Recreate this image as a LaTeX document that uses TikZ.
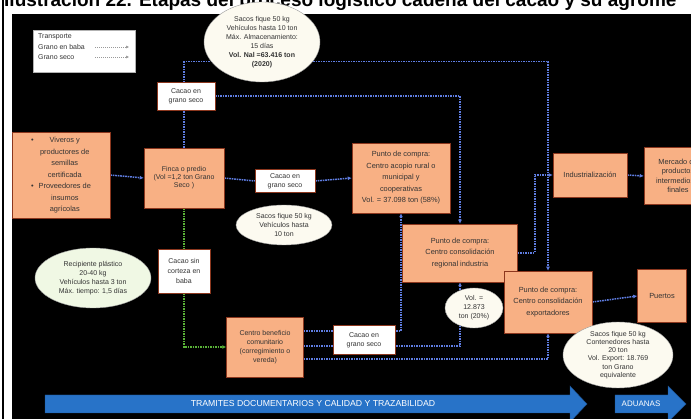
\documentclass[tikz,border=0pt]{standalone}
\usepackage{fontspec}
\setmainfont{Liberation Sans}
\usetikzlibrary{shapes.geometric,arrows.meta}

\definecolor{peach}{RGB}{248,176,132}
\definecolor{boxedge}{RGB}{140,55,30}
\definecolor{secoblue}{RGB}{95,125,225}
\definecolor{babagreen}{RGB}{90,180,55}
\definecolor{barblue}{RGB}{40,115,200}
\definecolor{cream}{RGB}{252,250,240}
\definecolor{greenwhite}{RGB}{240,248,228}

\pgfdeclarelayer{bgpanel}
\pgfdeclarelayer{lines}
\pgfsetlayers{bgpanel,lines,main}

\begin{document}
\begin{tikzpicture}[x=1pt,y=-1pt,
    every node/.style={font=\fontsize{7}{9}\selectfont, align=center, text=black!80, inner sep=1pt},
    ornbox/.style={draw=boxedge, fill=peach, line width=0.5pt},
    whbox/.style={draw=boxedge, fill=white, line width=0.5pt},
    bubble/.style={ellipse, draw=black!40, fill=cream, inner sep=0pt},
    loose/.style={font=\fontsize{7.4}{11.5}\selectfont},
    seco/.style={secoblue, line width=1.5pt, dash pattern=on 1.6pt off 0.9pt, -{Latex[length=4pt,width=4pt]}},
    secoplain/.style={secoblue, line width=1.5pt, dash pattern=on 1.6pt off 0.9pt},
    baba/.style={babagreen, line width=1.5pt, dash pattern=on 1.6pt off 0.9pt},
    bararrow/.style={fill=barblue, draw=barblue!70!black}]

  % Page and title
  \useasboundingbox (0,0) rectangle (691,419);
  \begin{pgfonlayer}{bgpanel}
    \fill[white] (0,0) rectangle (691,419);
    \begin{scope}
      \clip (0,0) rectangle (691,14);
      \node[anchor=base west, font=\fontsize{19}{19}\bfseries\selectfont, text=black, inner sep=0pt] (title) at (4,7)
        {Ilustración 22. Etapas del proceso logístico cadena del cacao y su agrome};
    \end{scope}
    \fill[black] (2,0) rectangle (4,419);
    \fill[black] (12,14) rectangle (691,419);
  \end{pgfonlayer}

  % Legend
  \node[draw=black!30, fill=white, minimum width=102pt, minimum height=42pt] (legend) at (84,51) {};
  \node[anchor=west] (lgtit) at (37,37) {Transporte};
  \node[anchor=west] (lgbaba) at (37,47) {Grano en baba};
  \node[anchor=west] (lgseco) at (37,57) {Grano seco};
  \coordinate (lgb1) at (95,47); \coordinate (lgb2) at (129,47);
  \coordinate (lgs1) at (95,57); \coordinate (lgs2) at (129,57);
  \draw[black!40, line width=0.5pt, dash pattern=on 1pt off 1pt, -{Latex[length=3pt,width=3pt]}] (lgb1) -- (lgb2);
  \draw[black!40, line width=0.5pt, dash pattern=on 1pt off 1pt, -{Latex[length=3pt,width=3pt]}] (lgs1) -- (lgs2);

  % Boxes
  \node[ornbox, loose, minimum width=98pt, minimum height=86pt] (viveros) at (61,175)
    {\begin{tabular}{@{}c@{\hspace{5pt}}c@{}}
      \textbullet & Viveros y\\ & productores de\\ & semillas\\ & certificada\\
      \textbullet & Proveedores de\\ & insumos\\ & agrícolas
    \end{tabular}};
  \node[ornbox, font=\fontsize{7}{8}\selectfont, minimum width=80pt, minimum height=60pt] (finca) at (184,178)
    {Finca o predio\\(Vol =1,2 ton Grano\\Seco )};
  \node[whbox, minimum width=58pt, minimum height=28pt] (grano1) at (186,96) {Cacao en\\grano seco};
  \node[whbox, minimum width=60pt, minimum height=23pt] (grano2) at (285,181) {Cacao en\\grano seco};
  \node[ornbox, loose, minimum width=98pt, minimum height=70pt] (acopio) at (401,178)
    {Punto de compra:\\Centro acopio rural o\\municipal y\\cooperativas\\Vol. = 37.098 ton (58\%)};
  \node[ornbox, loose, minimum width=115pt, minimum height=58pt] (regional) at (460,253)
    {Punto de compra:\\Centro consolidación\\regional industria};
  \node[ornbox, loose, minimum width=88pt, minimum height=62pt] (export) at (548,302)
    {Punto de compra:\\Centro consolidación\\exportadores};
  \node[ornbox, loose, minimum width=49pt, minimum height=53pt] (puertos) at (662,296) {Puertos};
  \node[ornbox, loose, minimum width=74pt, minimum height=44pt] (indus) at (590,175) {Industrialización};
  \node[ornbox, font=\fontsize{7.4}{9.5}\selectfont, minimum width=68pt, minimum height=57pt] (mercado) at (678,176)
    {Mercado de\\productos\\intermedios y\\finales};
  \node[whbox, font=\fontsize{7}{10}\selectfont, minimum width=52pt, minimum height=44pt] (sincorteza) at (184,271)
    {Cacao sin\\corteza en\\baba};
  \node[ornbox, minimum width=77pt, minimum height=60pt] (benef) at (265,347)
    {Centro beneficio\\comunitario\\(corregimiento o\\vereda)};
  \node[whbox, minimum width=62pt, minimum height=29pt] (grano3) at (364,340) {Cacao en\\grano seco};

  % Connectors
  \begin{pgfonlayer}{lines}
    \draw[seco] (viveros.east) -- (finca.west);
    \draw[secoplain] (finca.east) -- (grano2.west);
    \draw[seco] (grano2.east) -- (acopio.west);
    \draw[seco] (finca.north) -- ++(0,-86) -| (export.north);
    \draw[seco] (grano1.east) -| (regional.north);
    \draw[seco] (regional.east) -- ++(17,0) |- (indus.west);
    \draw[seco] (indus.east) -- (mercado.west);
    \draw[seco] (export.east) -- (puertos.west);
    \draw[baba] (finca.south) -- (sincorteza.north);
    \draw[baba, -{Latex[length=4pt,width=4pt]}] (sincorteza.south) |- (benef.west);
    \draw[seco] (benef.east |- 0,331) -| (acopio.south);
    \draw[seco] (benef.east |- 0,346) -| (regional.south);
    \draw[seco] (benef.east |- 0,359) -| (export.south);
  \end{pgfonlayer}

  % Bubbles
  \node[bubble, minimum width=116pt, minimum height=80pt] (bubtop) at (262,42) {};
  \node (bubtoptext) at (bubtop)
    {Sacos fique 50 kg\\Vehículos hasta 10 ton\\Máx. Almacenamiento:\\15 días\\\textbf{Vol. Nal =63.416 ton}\\\textbf{(2020)}};
  \node[bubble, minimum width=96pt, minimum height=40pt] (bubmid) at (284,225) {};
  \node (bubmidtext) at (bubmid) {Sacos fique 50 kg\\Vehículos hasta\\10 ton};
  \node[bubble, fill=greenwhite, minimum width=116pt, minimum height=60pt] (bubbaba) at (93,278) {};
  \node (bubbabatext) at (bubbaba) {Recipiente plástico\\20-40 kg\\Vehículos hasta 3 ton\\Máx. tiempo: 1,5 días};
  \node[bubble, minimum width=58pt, minimum height=40pt] (bubvol) at (474,308) {};
  \node (bubvoltext) at (bubvol) {Vol. =\\12.873\\ton (20\%)};
  \node[bubble, minimum width=110pt, minimum height=66pt] (bubexp) at (618,355) {};
  \node[font=\fontsize{7}{8.2}\selectfont] (bubexptext) at (bubexp)
    {Sacos fique 50 kg\\Contenedores hasta\\20 ton\\Vol. Export: 18.769\\ton Grano\\equivalente};

  % Bottom arrows
  \fill[bararrow] (45,395) -- (570,395) -- (570,386) -- (587,404) -- (570,422) -- (570,413) -- (45,413) -- cycle;
  \node[text=white, font=\fontsize{8.7}{8.7}\selectfont] (tramites) at (313,404)
    {TRAMITES DOCUMENTARIOS Y CALIDAD Y TRAZABILIDAD};
  \fill[bararrow] (615,395) -- (668,395) -- (668,386) -- (686,404) -- (668,422) -- (668,413) -- (615,413) -- cycle;
  \node[text=white, font=\fontsize{8}{8}\selectfont] (aduanas) at (641,404) {ADUANAS};

\end{tikzpicture}
\end{document}
